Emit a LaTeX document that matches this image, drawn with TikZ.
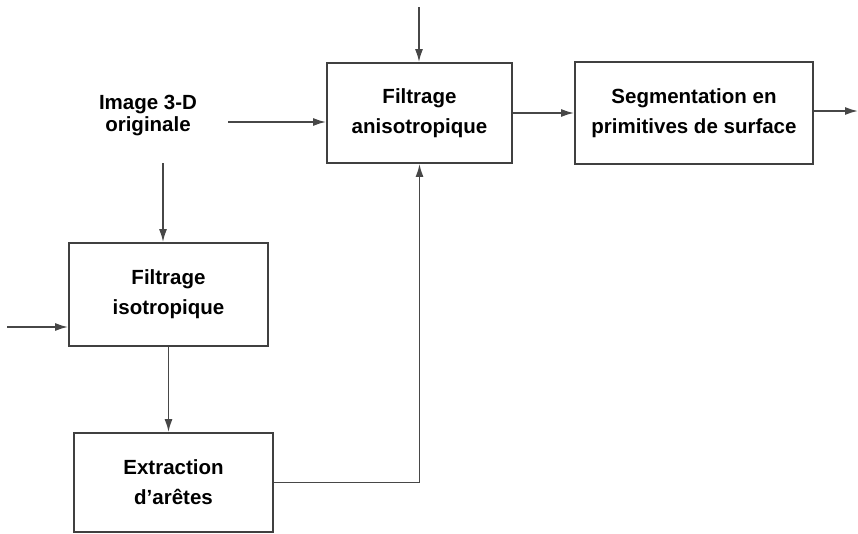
\documentclass[tikz,border=0pt]{standalone}
\usepackage{fontspec}
\setmainfont{Liberation Sans}
\usetikzlibrary{positioning, calc, arrows.meta}

\tikzset{
    block/.style={draw=black!75, line width=1.8pt, align=center, inner sep=0pt,
        font=\bfseries\fontsize{20.5}{30}\selectfont},
    label/.style={align=center, inner sep=0pt, font=\bfseries\fontsize{20.5}{22}\selectfont},
    flow/.style={draw=black!72, line width=1.7pt, -{Latex[length=13pt,width=8pt]}}
}

\begin{document}
\begin{tikzpicture}[x=1pt, y=-1pt]
        \useasboundingbox (0,0) rectangle (858,533);
        \node[block, minimum width=185pt, minimum height=100pt] (aniso) at (419.5,113) {Filtrage\\anisotropique};
        \node[block, minimum width=238pt, minimum height=102pt] (seg) at (694,113) {Segmentation en\\primitives de surface};
        \node[block, minimum width=199pt, minimum height=103pt] (iso) at (168.5,294.5) {Filtrage\\isotropique};
        \node[block, minimum width=199pt, minimum height=99pt] (extr) at (173.5,482.5) {Extraction\\d'arêtes};
        \node[label] (img) at (148,116) {Image 3-D\\originale};
        \coordinate (topIn) at (419,7);
        \coordinate (imgRight) at (228,122);
        \coordinate (imgDown) at (163,163);
        \coordinate (isoIn) at (7,327);
        \coordinate (segOut) at (858,111);
        \draw[flow] (topIn) -- (topIn |- aniso.north);
        \draw[flow] (imgRight) -- (imgRight -| aniso.west);
        \draw[flow] (aniso.east) -- (seg.west);
        \draw[flow] (seg.east |- segOut) -- (segOut);
        \draw[flow] (imgDown) -- (imgDown |- iso.north);
        \draw[flow] (isoIn) -- (isoIn -| iso.west);
        \draw[flow] (iso.south) -- (iso.south |- extr.north);
        \draw[flow] (extr.east) -| (aniso.south);
    \end{tikzpicture}
\end{document}
